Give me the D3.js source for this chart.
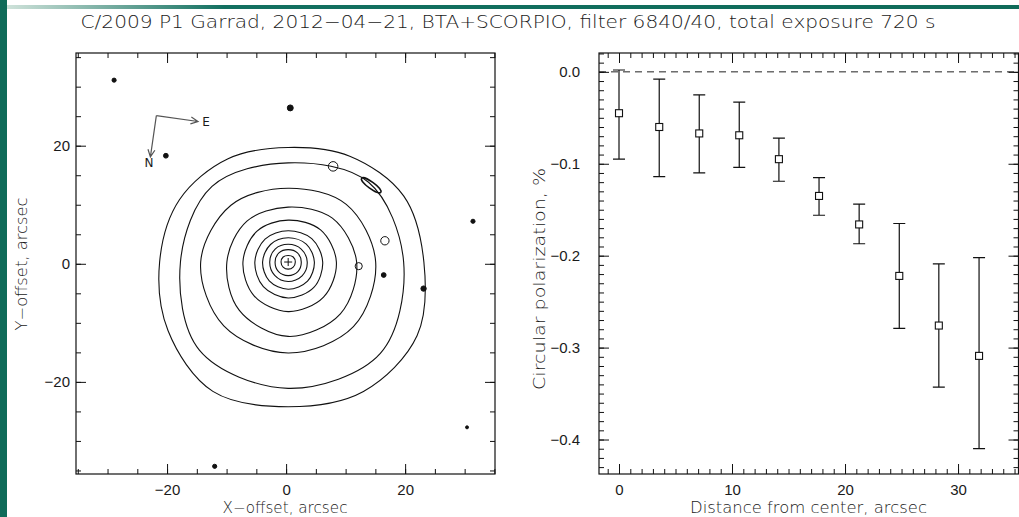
<!DOCTYPE html>
<html>
<head>
<meta charset="utf-8">
<script src="https://cdn.jsdelivr.net/npm/d3@7"></script>
<style>
  body { margin: 0; background: #fff; }
  svg { display: block; font-family: "DejaVu Sans", sans-serif; }
  .tick text { font-size: 15px; fill: #1a1a1a; font-weight: 300; }
  .tick line { stroke: #111; }
</style>
</head>
<body>
<div id="chart"></div>
<script>
// ---- left panel: contour map of the coma (arcsec) ----
const nucleus = [0.35, 0.3];
// contour radii, arcsec, sampled counter-clockwise from east (screen right)
const contourRadii = [
  [1.2, 1.2, 1.1, 1.2, 1.2, 1.2, 1.2, 1.2],
  [2.2, 2.2, 2.1, 2.2, 2.2, 2.3, 2.3, 2.3],
  [3.2, 3.1, 3.0, 3.1, 3.1, 3.2, 3.3, 3.3],
  [4.4, 4.3, 4.1, 4.2, 4.3, 4.5, 4.6, 4.6],
  [5.8, 5.6, 5.3, 5.5, 5.6, 5.9, 6.1, 6.1],
  [8.1, 7.7, 7.1, 7.4, 7.6, 8.1, 8.4, 8.4],
  [11.5, 10.5, 9.3, 9.8, 10.3, 11.6, 12.6, 12.4],
  [14.7, 13.8, 12.5, 13.6, 14.7, 15.3, 15.4, 15.5],
  [19.4, 19.1, 16.8, 18.1, 18.1, 21.1, 21.4, 21.9],
  [22.8, 22.4, 20.7, 19.4, 20.2, 21.1, 21.6, 23.3, 25.3, 24.5, 25.3, 25.0]
];
// field stars / small blobs
const blobX = [-28.9, -20.2, 0.7, -12.0, 31.4, 30.4, 23.1, 16.4, 12.2, 16.6, 7.9];
const blobY = [31.1, 18.3, 26.4, -34.3, 7.2, -27.7, -4.2, -1.9, -0.4, 3.9, 16.5];
const blobR = [0.35, 0.4, 0.5, 0.35, 0.35, 0.25, 0.45, 0.4, 0.6, 0.7, 0.8];
const blobFilled = [1, 1, 1, 1, 1, 1, 1, 1, 0, 0, 0];
const streak = { x: 14.3, y: 13.3, rx: 2.0, ry: 0.55, angle: 36 };
// compass (arcsec)
const compassOrigin = [-21.8, 25.1];
const compassE = [-14.8, 24.1];
const compassN = [-22.8, 18.1];

const xLMajor = [-20, 0, 20];
const xLMinor = d3.range(-35, 36, 5);
const yLMajor = [-20, 0, 20];
const yLMinor = d3.range(-35, 36, 5);

// ---- right panel: circular polarization vs distance ----
const dist = [0, 3.56, 7.1, 10.64, 14.15, 17.7, 21.25, 24.8, 28.3, 31.86];
const pol = [-0.045, -0.060, -0.067, -0.069, -0.095, -0.135, -0.166, -0.222, -0.276, -0.309];
const polHi = [0.002, -0.008, -0.025, -0.033, -0.072, -0.115, -0.144, -0.165, -0.209, -0.202];
const polLo = [-0.095, -0.114, -0.110, -0.104, -0.119, -0.156, -0.187, -0.279, -0.343, -0.41];

const xRMajor = [0, 10, 20, 30];
const xRMinor = d3.range(-1, 36, 1);
const yRMajor = [0, -0.1, -0.2, -0.3, -0.4];
const yRMinor = d3.range(-43, 3, 1).map(d => d / 100);

const title = "C/2009 P1 Garrad, 2012\u221204\u221221, BTA+SCORPIO, filter 6840/40, total exposure 720 s";

const width = 1019, height = 517;
const svg = d3.select("#chart").append("svg")
  .attr("width", width).attr("height", height);

// green slide frame
const grad = svg.append("defs").append("linearGradient").attr("id", "topband");
grad.append("stop").attr("offset", "0%").attr("stop-color", "#d5e6de");
grad.append("stop").attr("offset", "22%").attr("stop-color", "#127060");
grad.append("stop").attr("offset", "100%").attr("stop-color", "#0f6b59");
svg.append("rect").attr("x", 0).attr("y", 5).attr("width", width).attr("height", 4).attr("fill", "url(#topband)");
svg.append("rect").attr("x", 0).attr("y", 0).attr("width", 7).attr("height", height).attr("fill", "#0f6b59");

svg.append("text")
  .attr("x", 508).attr("y", 28)
  .attr("text-anchor", "middle")
  .attr("font-size", 17).attr("font-weight", 300).attr("fill", "#1a1a1a")
  .attr("textLength", 855).attr("lengthAdjust", "spacingAndGlyphs")
  .text(title);

function drawAxes(g, x, y, box, xMajor, xMinor, yMajor, yMinor, xFmt, yFmt, yPad) {
  const bottom = g.append("g").attr("transform", `translate(0,${box.y1})`);
  bottom.call(d3.axisBottom(x).tickValues(xMinor).tickSize(-5).tickFormat(""));
  bottom.append("g").call(d3.axisBottom(x).tickValues(xMajor).tickSize(-10).tickPadding(10).tickFormat(xFmt));
  const top = g.append("g").attr("transform", `translate(0,${box.y0})`);
  top.call(d3.axisTop(x).tickValues(xMinor).tickSize(-5).tickFormat(""));
  top.append("g").call(d3.axisTop(x).tickValues(xMajor).tickSize(-10).tickFormat(""));
  const left = g.append("g").attr("transform", `translate(${box.x0},0)`);
  left.call(d3.axisLeft(y).tickValues(yMinor).tickSize(-5).tickFormat(""));
  left.append("g").call(d3.axisLeft(y).tickValues(yMajor).tickSize(-10).tickPadding(yPad).tickFormat(yFmt));
  const right = g.append("g").attr("transform", `translate(${box.x1},0)`);
  right.call(d3.axisRight(y).tickValues(yMinor).tickSize(-5).tickFormat(""));
  right.append("g").call(d3.axisRight(y).tickValues(yMajor).tickSize(-10).tickFormat(""));
  g.selectAll(".domain").remove();
  g.append("rect")
    .attr("x", box.x0).attr("y", box.y0)
    .attr("width", box.x1 - box.x0).attr("height", box.y1 - box.y0)
    .attr("fill", "none").attr("stroke", "#111").attr("stroke-width", 1.2);
}

// ---------- left panel ----------
const L = { x0: 76, x1: 495, y0: 53, y1: 474 };
const xL = d3.scaleLinear().domain([-35.3, 35.1]).range([L.x0, L.x1]);
const yL = d3.scaleLinear().domain([-35.6, 35.7]).range([L.y1, L.y0]);
const gL = svg.append("g");

const contourLine = d3.line()
  .x(d => xL(d[0])).y(d => yL(d[1]))
  .curve(d3.curveCatmullRomClosed);

gL.selectAll("path.contour")
  .data(contourRadii)
  .join("path")
  .attr("class", "contour")
  .attr("fill", "none").attr("stroke", "#111").attr("stroke-width", 1.1)
  .attr("d", radii => contourLine(radii.map((r, i) => {
    const a = i * 2 * Math.PI / radii.length;
    return [nucleus[0] + r * Math.cos(a), nucleus[1] + r * Math.sin(a)];
  })));

const pxPerArcsec = xL(1) - xL(0);
gL.selectAll("circle.blob")
  .data(blobX.map((x, i) => ({ x, y: blobY[i], r: blobR[i], f: blobFilled[i] })))
  .join("circle")
  .attr("class", "blob")
  .attr("cx", d => xL(d.x)).attr("cy", d => yL(d.y))
  .attr("r", d => d.r * pxPerArcsec)
  .attr("fill", d => d.f ? "#111" : "none")
  .attr("stroke", "#111").attr("stroke-width", 1);

gL.append("ellipse")
  .attr("cx", xL(streak.x)).attr("cy", yL(streak.y))
  .attr("rx", streak.rx * pxPerArcsec).attr("ry", streak.ry * pxPerArcsec)
  .attr("transform", `rotate(${streak.angle},${xL(streak.x)},${yL(streak.y)})`)
  .attr("fill", "none").attr("stroke", "#111").attr("stroke-width", 1.5);

// nucleus cross
const nx = xL(nucleus[0]), ny = yL(nucleus[1]);
gL.append("path")
  .attr("d", `M${nx - 4},${ny}H${nx + 4}M${nx},${ny - 4}V${ny + 4}`)
  .attr("stroke", "#111").attr("stroke-width", 1);

// compass
function arrow(from, to, label, lx, ly) {
  const x0 = xL(from[0]), y0 = yL(from[1]), x1 = xL(to[0]), y1 = yL(to[1]);
  const ang = Math.atan2(y1 - y0, x1 - x0);
  const h = 8, s = 0.45;
  gL.append("path")
    .attr("d", `M${x0},${y0}L${x1},${y1}` +
      `M${x1 - h * Math.cos(ang - s)},${y1 - h * Math.sin(ang - s)}L${x1},${y1}` +
      `L${x1 - h * Math.cos(ang + s)},${y1 - h * Math.sin(ang + s)}`)
    .attr("fill", "none").attr("stroke", "#555").attr("stroke-width", 1.2);
  gL.append("text").attr("x", x1 + lx).attr("y", y1 + ly)
    .attr("font-size", 12).attr("fill", "#1a1a1a").attr("text-anchor", "middle").text(label);
}
arrow(compassOrigin, compassE, "E", 8, 5);
arrow(compassOrigin, compassN, "N", -1.5, 10);

drawAxes(gL, xL, yL, L, xLMajor, xLMinor, yLMajor, yLMinor, d3.format("d"), d3.format("d"), 6);

gL.append("text")
  .attr("x", (L.x0 + L.x1) / 2 - 0.5).attr("y", 513)
  .attr("text-anchor", "middle").attr("font-size", 15).attr("font-weight", 300).attr("fill", "#1a1a1a")
  .attr("textLength", 125).attr("lengthAdjust", "spacingAndGlyphs")
  .text("X\u2212offset, arcsec");
gL.append("text")
  .attr("transform", "translate(27,264) rotate(-90)")
  .attr("text-anchor", "middle").attr("font-size", 15).attr("font-weight", 300).attr("fill", "#1a1a1a")
  .attr("textLength", 133).attr("lengthAdjust", "spacingAndGlyphs")
  .text("Y\u2212offset, arcsec");

// ---------- right panel ----------
const R = { x0: 599, x1: 1018.5, y0: 53, y1: 474 };
const xR = d3.scaleLinear().domain([-1.77, 35.35]).range([R.x0, R.x1]);
const yR = d3.scaleLinear().domain([-0.4375, 0.0205]).range([R.y1, R.y0]);
const gR = svg.append("g");

gR.append("line")
  .attr("x1", R.x0).attr("x2", R.x1).attr("y1", yR(0)).attr("y2", yR(0))
  .attr("stroke", "#222").attr("stroke-dasharray", "7,5");

const pts = dist.map((d, i) => ({ d, p: pol[i], hi: polHi[i], lo: polLo[i] }));
const cap = 6, sq = 3.5;
const bars = gR.selectAll("g.pt").data(pts).join("g").attr("class", "pt");
bars.append("path")
  .attr("d", d => `M${xR(d.d)},${yR(d.hi)}V${yR(d.lo)}` +
    `M${xR(d.d) - cap},${yR(d.hi)}H${xR(d.d) + cap}` +
    `M${xR(d.d) - cap},${yR(d.lo)}H${xR(d.d) + cap}`)
  .attr("stroke", "#111").attr("stroke-width", 1.2).attr("fill", "none");
bars.append("rect")
  .attr("x", d => xR(d.d) - sq).attr("y", d => yR(d.p) - sq)
  .attr("width", sq * 2).attr("height", sq * 2)
  .attr("fill", "#fff").attr("stroke", "#111").attr("stroke-width", 1.1);

drawAxes(gR, xR, yR, R, xRMajor, xRMinor, yRMajor, yRMinor, d3.format("d"), d3.format(".1f"), 19);

gR.append("text")
  .attr("x", 808.5).attr("y", 513)
  .attr("text-anchor", "middle").attr("font-size", 15).attr("font-weight", 300).attr("fill", "#1a1a1a")
  .attr("textLength", 237).attr("lengthAdjust", "spacingAndGlyphs")
  .text("Distance from center, arcsec");
gR.append("text")
  .attr("transform", "translate(545,279) rotate(-90)")
  .attr("text-anchor", "middle").attr("font-size", 15).attr("font-weight", 300).attr("fill", "#1a1a1a")
  .attr("textLength", 222).attr("lengthAdjust", "spacingAndGlyphs")
  .text("Circular polarization, %");
</script>
</body>
</html>
